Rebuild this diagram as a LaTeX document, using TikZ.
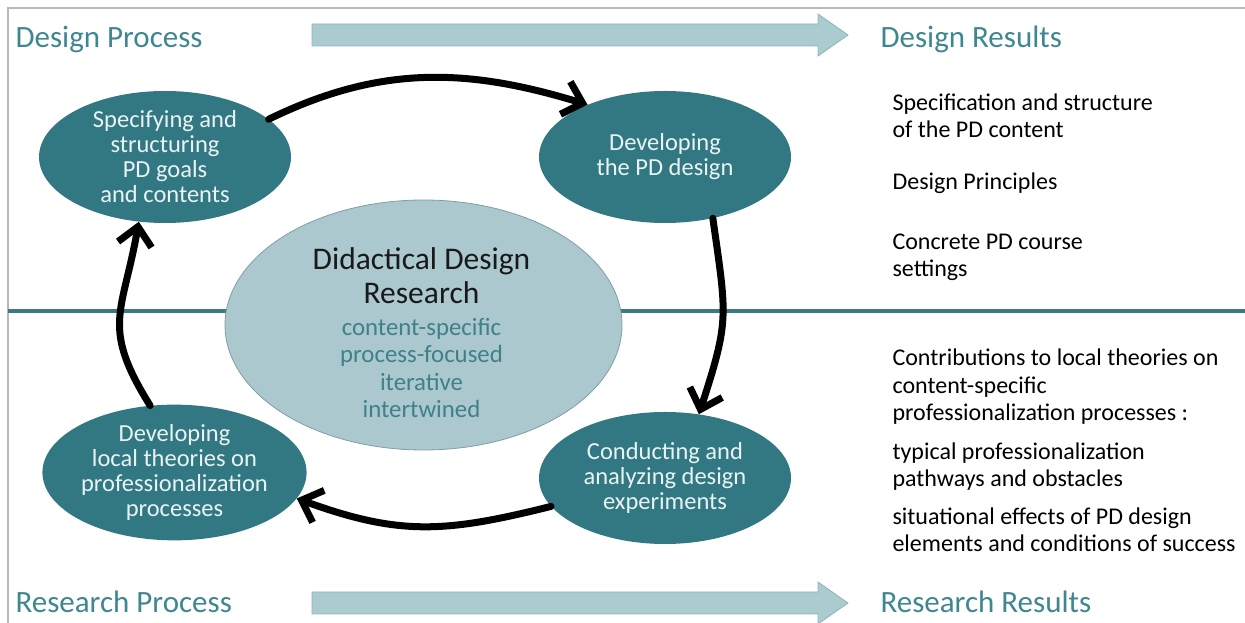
\documentclass[tikz,border=0pt]{standalone}
\usepackage{fontspec}
\setmainfont{Carlito}
\usetikzlibrary{shapes.geometric,arrows.meta}
\definecolor{stagefill}{HTML}{327882}
\definecolor{stagetxt}{HTML}{EAF3F4}
\definecolor{corefill}{HTML}{AAC8CE}
\definecolor{coreedge}{HTML}{7E9FA5}
\definecolor{coretxt}{HTML}{408089}
\definecolor{headtxt}{HTML}{3E8791}
\definecolor{rulecol}{HTML}{3C7A82}
\definecolor{framecol}{HTML}{B8B8B8}
\definecolor{barfill}{HTML}{AACBD0}
\definecolor{baredge}{HTML}{8EB4BA}

\begin{document}
\begin{tikzpicture}[x=1pt,y=1pt,
    stage/.style={ellipse, fill=stagefill, text=stagetxt, minimum width=252, minimum height=132,
      inner sep=0pt, align=center, font=\fontsize{24.5}{25}\selectfont},
    core/.style={ellipse, fill=corefill, draw=coreedge, line width=0.8, minimum width=397, minimum height=250},
    header/.style={anchor=base west, text=headtxt, font=\fontsize{31}{36}\selectfont},
    result/.style={anchor=base west, align=left, font=\fontsize{24}{27.5}\selectfont},
    cycle/.style={line width=7, line cap=round, -{Straight Barb[length=18,width=34,line width=7]}},
    bar/.style={fill=barfill, draw=baredge, line width=0.8}]
  \useasboundingbox (0,0) rectangle (1245,623);
  \draw[framecol, line width=2.5] (1245,615) -- (8,615) -- (8,0);
  \draw[rulecol, line width=3.5] (8,312) -- (1245,312);
  \foreach \ya in {588,20}
    \draw[bar] (312,\ya-11) -- (818,\ya-11) -- (818,\ya-21) -- (848,\ya) -- (818,\ya+21) -- (818,\ya+11) -- (312,\ya+11) -- cycle;
  \node[header] (designproc) at (12,575) {Design Process};
  \node[header] (designres) at (877,575) {Design Results};
  \node[header] (researchproc) at (12,10) {Research Process};
  \node[header] (researchres) at (877,10) {Research Results};
  \node[core] (ddr) at (423.5,298) {};
  \node[align=center, anchor=base, text=coretxt, font=\fontsize{24.8}{27.5}\selectfont] (ddrtext) at (421.5,205)
    {{\fontsize{31.5}{35}\selectfont\color{black!90}Didactical Design}\\[7pt]
     {\fontsize{31.5}{35}\selectfont\color{black!90}Research}\\[4pt]
     content-specific\\process-focused\\iterative\\intertwined};
  \node[stage] (specify) at (165,466) {Specifying and\\structuring\\PD goals\\and contents};
  \node[stage] (develop) at (665,466) {Developing\\the PD design};
  \node[stage] (conduct) at (665,145) {Conducting and\\analyzing design\\experiments};
  \node[stage] (theory) at (174.5,150.5) {Developing\\local theories on\\professionalization\\processes};
  \draw[cycle] (specify.20) to[out=26,in=163] (develop.146);
  \draw[cycle] (develop.-52) to[out=-82,in=72,looseness=1.3] (conduct.62);
  \draw[cycle] (conduct.194) to[out=194,in=-20,looseness=1.1] (theory.-12);
  \draw[cycle] (theory.110) to[out=122,in=-100,looseness=1.3] (specify.248);
  \node[result] (spec) at (889,485) {Specification and structure\\of the PD content};
  \node[result] (principles) at (889,433) {Design Principles};
  \node[result] (settings) at (889,346) {Concrete PD course\\settings};
  \node[result] (contrib) at (889,202) {Contributions to local theories on\\content-specific\\professionalization processes :};
  \node[result] (pathways) at (889,136) {typical professionalization\\pathways and obstacles};
  \node[result] (effects) at (889,71) {situational effects of PD design\\elements and conditions of success};
\end{tikzpicture}
\end{document}
